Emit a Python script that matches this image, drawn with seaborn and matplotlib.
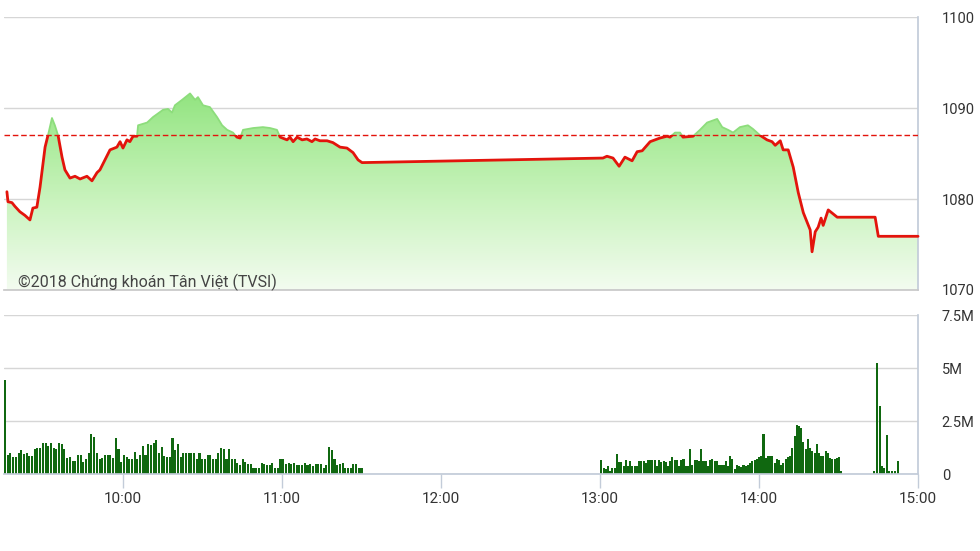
import numpy as np
import pandas as pd
import matplotlib
matplotlib.use('Agg')
import matplotlib.pyplot as plt
from matplotlib.colors import LinearSegmentedColormap
from matplotlib.patches import Rectangle
import seaborn as sns

# index line: minutes after 9:00 and value
price_min = [16.2, 16.6, 18.1, 19.2, 21.1, 23.0, 24.9, 26.0, 27.5, 28.7, 30.6, 31.7, 33.2, 34.3,
             35.5, 37.0, 38.1, 40.0, 41.9, 43.8, 46.4, 48.3, 50.2, 51.3, 53.2, 55.1, 57.7, 58.9,
             60.0, 61.5, 62.6, 63.8, 65.3, 65.7, 69.1, 71.3, 75.1, 77.0, 78.5, 79.6, 82.3, 85.3,
             87.2, 88.3, 90.2, 92.8, 95.5, 97.4, 99.3, 101.5, 103.0, 104.2, 105.3, 109.1, 112.8,
             115.5, 118.1, 119.3, 121.9, 123.0, 124.2, 125.7, 127.6, 129.4, 131.3, 132.5, 134.3,
             137.0, 139.2, 141.9, 144.5, 146.8, 148.7, 150.2, 241.1, 242.6, 244.9, 247.2, 249.4,
             252.1, 254.0, 255.9, 258.9, 262.6, 265.3, 266.4, 268.3, 270.2, 271.3, 275.1, 277.7,
             280.4, 284.2, 286.1, 288.3, 290.2, 292.8, 295.8, 297.7, 300.4, 303.0, 304.9, 306.1,
             308.0, 309.1, 311.0, 312.9, 314.8, 316.7, 319.3, 320.0, 321.2, 322.3, 323.4, 324.2,
             326.1, 329.5, 343.8, 345.0, 360.0]
price_val = [1080.8, 1079.7, 1079.6, 1079.2, 1078.6, 1078.2, 1077.7, 1079.0, 1079.1, 1081.3, 1085.7,
             1087.0, 1088.9, 1088.1, 1087.0, 1084.6, 1083.2, 1082.3, 1082.5, 1082.2, 1082.5, 1082.0,
             1082.9, 1083.2, 1084.3, 1085.4, 1085.7, 1086.3, 1085.6, 1086.5, 1086.3, 1086.9, 1086.9,
             1088.1, 1088.4, 1089.0, 1089.8, 1089.9, 1089.5, 1090.3, 1090.9, 1091.6, 1090.9, 1091.2,
             1090.3, 1090.1, 1089.0, 1088.1, 1087.6, 1087.3, 1086.8, 1086.7, 1087.6, 1087.8, 1087.9,
             1087.8, 1087.6, 1086.8, 1086.5, 1086.8, 1086.3, 1086.8, 1086.5, 1086.6, 1086.3, 1086.6,
             1086.4, 1086.4, 1086.2, 1085.7, 1085.6, 1085.1, 1084.3, 1084.0, 1084.5, 1084.7, 1084.5,
             1083.6, 1084.6, 1084.2, 1085.2, 1085.3, 1086.3, 1086.7, 1086.9, 1086.8, 1087.3, 1087.3,
             1086.8, 1086.9, 1087.6, 1088.4, 1088.8, 1087.9, 1087.6, 1087.3, 1087.9, 1088.1, 1087.7,
             1087.0, 1086.5, 1086.3, 1085.9, 1086.4, 1085.4, 1085.4, 1083.5, 1080.7, 1078.5, 1076.6,
             1074.2, 1076.4, 1076.9, 1077.9, 1077.1, 1078.8, 1078.0, 1078.0, 1075.9, 1075.9]
ref_price = 1087.0

# volume (millions), morning and afternoon continuous sessions
vol_am = [4.42, 0.88, 0.98, 0.82, 0.82, 1.01, 1.12, 0.93, 0.98, 0.85, 0.85, 1.17, 1.25, 1.25, 1.46,
          1.46, 1.33, 1.46, 1.25, 1.17, 1.46, 1.41, 1.17, 0.77, 0.82, 0.61, 0.61, 0.88, 0.88, 0.58,
          0.72, 0.98, 1.89, 1.76, 0.98, 0.72, 0.77, 0.88, 0.88, 0.88, 0.77, 1.70, 1.17, 0.59, 0.88,
          0.82, 0.72, 0.72, 1.04, 0.72, 0.88, 1.33, 0.88, 1.41, 1.36, 1.46, 1.60, 1.01, 1.28, 0.85,
          0.82, 0.82, 1.70, 1.14, 1.41, 0.82, 1.01, 0.98, 1.01, 1.01, 0.98, 0.72, 1.01, 0.72, 0.72,
          0.88, 0.88, 0.69, 0.72, 1.01, 1.25, 1.17, 0.72, 1.17, 0.72, 0.72, 0.53, 0.42, 0.72, 0.56,
          0.48, 0.45, 0.29, 0.30, 0.30, 0.53, 0.48, 0.42, 0.42, 0.53, 0.30, 0.30, 0.72, 0.69, 0.45,
          0.53, 0.45, 0.53, 0.42, 0.42, 0.42, 0.53, 0.42, 0.45, 0.37, 0.45, 0.45, 0.45, 0.29, 0.42,
          1.28, 1.12, 0.69, 0.42, 0.45, 0.53, 0.27, 0.27, 0.27, 0.45, 0.45, 0.29, 0.29]
vol_pm = [0.68, 0.28, 0.24, 0.40, 0.16, 0.28, 0.28, 0.95, 0.55, 0.55, 0.40, 0.68, 0.40, 0.60, 0.40,
          0.40, 0.40, 0.60, 0.60, 0.60, 0.52, 0.68, 0.68, 0.68, 0.68, 0.40, 0.68, 0.55, 0.60, 0.55,
          0.40, 0.60, 0.81, 0.68, 0.68, 0.40, 0.68, 0.71, 0.40, 0.40, 1.16, 0.44, 0.68, 0.68, 0.60,
          1.16, 0.60, 0.60, 0.40, 0.68, 0.71, 0.60, 0.60, 0.44, 0.44, 0.44, 0.60, 0.40, 0.84, 0.71,
          0.24, 0.44, 0.40, 0.33, 0.44, 0.40, 0.44, 0.52, 0.60, 0.68, 0.71, 0.79, 0.84, 1.87, 0.76,
          0.84, 0.87, 0.87, 0.52, 0.71, 0.68, 0.44, 0.52, 0.71, 0.79, 0.84, 1.23, 1.79, 2.29, 2.26,
          2.18, 1.50, 1.16, 1.66, 1.23, 1.08, 1.00, 1.42, 1.00, 0.87, 0.84, 1.08, 1.00, 0.76, 0.71,
          0.71, 0.76, 0.81, 0.16]
am_start, am_end = 15.5, 150.0
pm_start, pm_end = 240.5, 331.0
# closing auction prints
atc_min = [340.0, 343.2, 344.6, 345.7, 346.3, 347.2, 348.2, 349.2, 350.1, 351.4, 352.3]
atc_vol = [0.02, 0.13, 5.24, 3.21, 0.36, 0.28, 1.82, 0.16, 0.13, 0.13, 0.60]

hour_ticks = [60, 120, 180, 240, 300, 360]
hour_labels = ['10:00', '11:00', '12:00', '13:00', '14:00', '15:00']
price_ticks = [1070, 1080, 1090, 1100]
vol_ticks = [0, 2.5, 5, 7.5]
vol_labels = ['0', '2.5M', '5M', '7.5M']

sns.set_theme(style='white')
plt.rcParams['font.family'] = ['Roboto', 'DejaVu Sans']

grid_c = '#d6d6d6'
spine_c = '#c3ccd9'
red = '#e3140c'
bar_c = '#106810'

fig = plt.figure(figsize=(9.8, 5.51), dpi=100)
ax1 = fig.add_axes([0.0038, 0.4737, 0.9330, 0.4954])
ax2 = fig.add_axes([0.0038, 0.1397, 0.9330, 0.2886])

# ---- price panel
price = pd.DataFrame({'t': price_min, 'v': price_val})
poly = ax1.fill_between(price['t'], price['v'], 1070, facecolor='none', edgecolor='none')
cmap = LinearSegmentedColormap.from_list('g', [(0, '#f3fcf0'), (0.45, '#c9f3bd'),
                                               (0.77, '#a9eb99'), (1, '#90e37e')])
grad = np.linspace(0, 1, 256).reshape(-1, 1)
im = ax1.imshow(grad, extent=[15, 360, 1070, 1092], origin='lower', aspect='auto',
                cmap=cmap, zorder=1, interpolation='bilinear')
im.set_clip_path(poly.get_paths()[0], transform=ax1.transData)

sns.lineplot(data=price, x='t', y='v', ax=ax1, color='#8ddd7c', lw=1.3,
             estimator=None, sort=False, zorder=2)
sns.lineplot(data=price, x='t', y='v', ax=ax1, color=red, lw=2,
             estimator=None, sort=False, zorder=3)
up_line, down_line = ax1.lines[-2], ax1.lines[-1]
up_line.set_clip_path(Rectangle((0, ref_price), 400, 50, transform=ax1.transData))
down_line.set_clip_path(Rectangle((0, 1060), 400, ref_price - 1060, transform=ax1.transData))

ax1.axhline(ref_price, color=red, lw=1, ls=(0, (4, 2)), zorder=4)

ax1.set_xlim(15, 360)
ax1.set_ylim(1070, 1100)
ax1.set_xticks([])
ax1.set_yticks(price_ticks)
ax1.set_xlabel('')
ax1.set_ylabel('')
ax1.grid(axis='y', color=grid_c, lw=1)
ax1.yaxis.tick_right()
ax1.tick_params(axis='y', length=0, pad=17, labelsize=10.5, labelcolor='#333333')
for s in ['top', 'left']:
    ax1.spines[s].set_visible(False)
ax1.spines['right'].set_color(spine_c)
ax1.spines['bottom'].set_color('#c8c8c8')

ax1.text(0.0156, 0.011, '©2018 Chứng khoán Tân Việt (TVSI)', transform=ax1.transAxes,
         fontsize=11.5, color='#444444', va='baseline', zorder=6,
         family=['Roboto', 'DejaVu Sans'])

# ---- volume panel
vol = pd.DataFrame({
    't': list(np.linspace(am_start, am_end, len(vol_am))) +
         list(np.linspace(pm_start, pm_end, len(vol_pm))) + atc_min,
    'v': vol_am + vol_pm + atc_vol,
})
sns.barplot(data=vol, x='t', y='v', ax=ax2, native_scale=True, errorbar=None,
            color=bar_c, saturation=1, width=1.3, linewidth=0)

ax2.set_xlim(15, 360)
ax2.set_ylim(0, 7.5)
ax2.set_yticks(vol_ticks)
ax2.set_yticklabels(vol_labels)
ax2.set_xticks(hour_ticks)
ax2.set_xticklabels(hour_labels)
ax2.set_xlabel('')
ax2.set_ylabel('')
ax2.grid(axis='y', color=grid_c, lw=1)
ax2.grid(axis='x', visible=False)
ax2.yaxis.tick_right()
ax2.tick_params(axis='y', length=0, pad=17, labelsize=10.5, labelcolor='#333333')
ax2.tick_params(axis='x', bottom=True, length=10, width=1, color=spine_c, pad=3,
                labelsize=11, labelcolor='#333333')
for s in ['top', 'left']:
    ax2.spines[s].set_visible(False)
ax2.spines['right'].set_color(spine_c)
ax2.spines['bottom'].set_color(spine_c)

fig.savefig('out.png', dpi=100)
